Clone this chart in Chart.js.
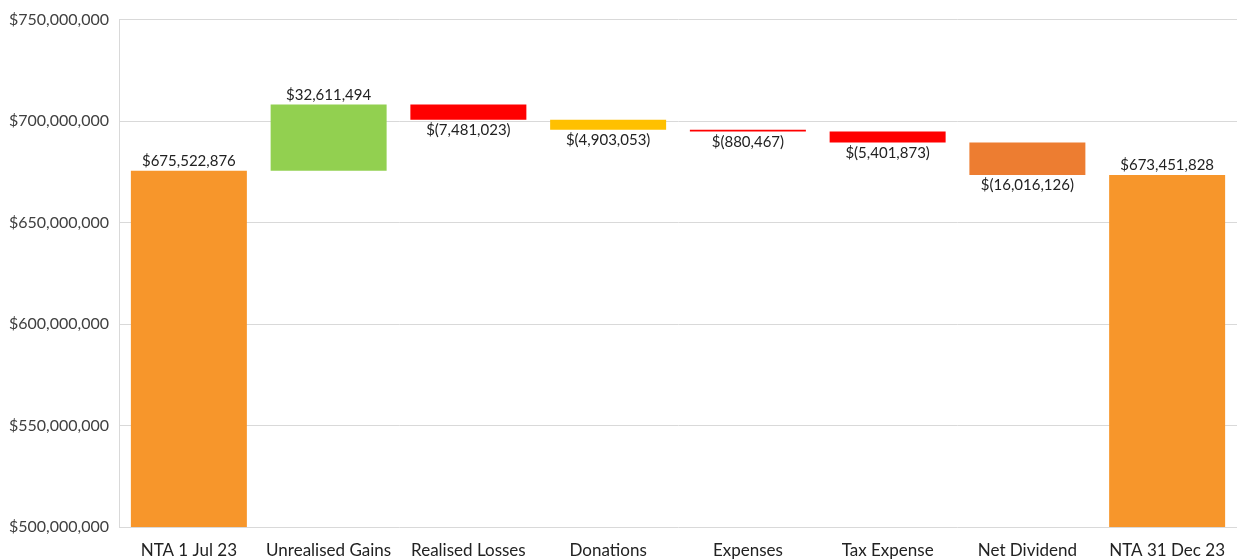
<!DOCTYPE html>
<html>
<head>
<meta charset="utf-8">
<script src="https://cdn.jsdelivr.net/npm/chart.js@4"></script>
<style>
  html, body { margin: 0; padding: 0; background: #fff; }
  #wrap { width: 1238px; height: 560px; }
</style>
</head>
<body>
<div id="wrap"><canvas id="waterfall"></canvas></div>
<script>
const categories = ["NTA 1 Jul 23", "Unrealised Gains", "Realised Losses", "Donations", "Expenses", "Tax Expense", "Net Dividend", "NTA 31 Dec 23"];
// totals are absolute, the rest are movements
const amounts = [675522876, 32611494, -7481023, -4903053, -880467, -5401873, -16016126, 673451828];
const isTotal = [true, false, false, false, false, false, false, true];
const barColors = ["#F7962B", "#92D050", "#FF0000", "#FFC000", "#FF0000", "#FF0000", "#ED7D31", "#F7962B"];
const yTicks = [500000000, 550000000, 600000000, 650000000, 700000000, 750000000];

const axisMin = yTicks[0];
let running = 0;
const ranges = amounts.map(function (v, i) {
  if (isTotal[i]) { running = v; return [axisMin, v]; }
  const from = running;
  running += v;
  return [from, running];
});

const money = n => "$" + Math.abs(n).toLocaleString("en-US");
const labelText = v => v < 0 ? "$(" + Math.abs(v).toLocaleString("en-US") + ")" : money(v);

const barLabels = {
  id: "barLabels",
  afterDatasetsDraw(chart) {
    const ctx = chart.ctx;
    const meta = chart.getDatasetMeta(0);
    ctx.save();
    ctx.font = "15px Lato, 'Liberation Sans', sans-serif";
    ctx.fillStyle = "#222";
    ctx.textAlign = "center";
    meta.data.forEach(function (bar, i) {
      const v = amounts[i];
      const top = Math.min(bar.y, bar.base);
      const bottom = Math.max(bar.y, bar.base);
      if (v < 0) {
        ctx.textBaseline = "top";
        ctx.fillText(labelText(v), bar.x, bottom + 3);
      } else {
        ctx.textBaseline = "bottom";
        ctx.fillText(labelText(v), bar.x, top - 2);
      }
    });
    ctx.restore();
  }
};

new Chart(document.getElementById("waterfall"), {
  type: "bar",
  data: {
    labels: categories,
    datasets: [{
      data: ranges,
      backgroundColor: barColors,
      borderWidth: 0,
      barPercentage: 0.83,
      categoryPercentage: 1
    }]
  },
  options: {
    responsive: true,
    maintainAspectRatio: false,
    animation: false,
    layout: { padding: { top: 12, right: 0, bottom: 0, left: 0 } },
    plugins: {
      legend: { display: false },
      tooltip: { enabled: false }
    },
    scales: {
      x: {
        afterFit(scale) { scale.height = 33; },
        grid: { display: false, drawTicks: false },
        border: { display: false },
        ticks: { color: "#222", padding: 13, font: { family: "Lato, 'Liberation Sans', sans-serif", size: 17 } }
      },
      y: {
        min: axisMin,
        max: yTicks[yTicks.length - 1],
        afterFit(scale) { scale.width = 119; },
        afterBuildTicks(scale) { scale.ticks = yTicks.map(v => ({ value: v })); },
        grid: { color: "#D9D9D9", drawTicks: false },
        border: { color: "#D9D9D9" },
        ticks: {
          color: "#404040",
          padding: 10,
          font: { family: "Lato, 'Liberation Sans', sans-serif", size: 16 },
          callback: v => money(v)
        }
      }
    }
  },
  plugins: [barLabels]
});
</script>
</body>
</html>
